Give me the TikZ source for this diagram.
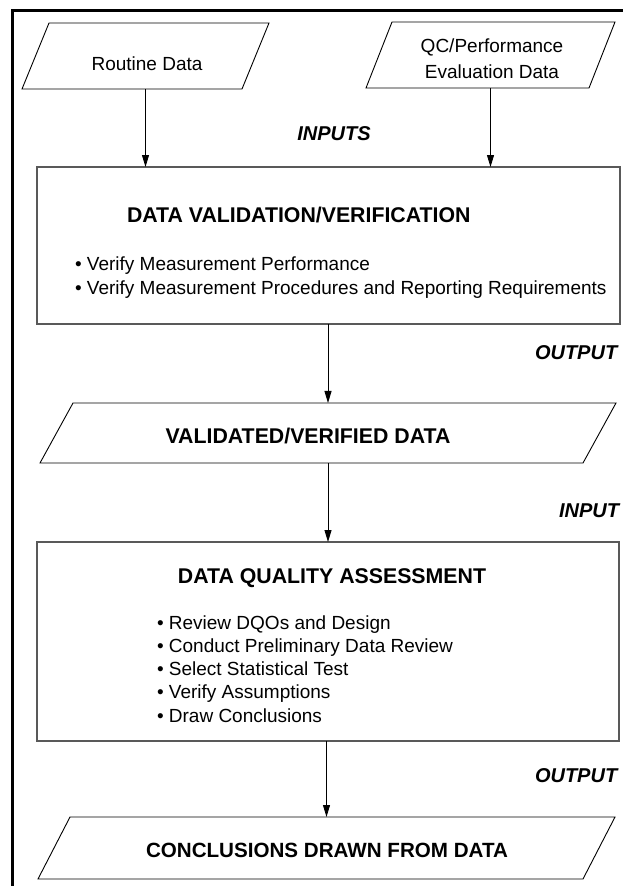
\documentclass[tikz,border=0pt]{standalone}
\usepackage{fontspec}
\setmainfont{Liberation Sans}
\usetikzlibrary{calc, shapes.geometric, arrows.meta, positioning}

\begin{document}
\begin{tikzpicture}[%
    x=1pt, y=-1pt,                           % page units, y down
    >={Triangle[length=12pt, width=7pt]},    % arrow style
    every node/.style={inner sep=0pt, outer sep=0pt},
    datanode/.style={draw, trapezium, text depth=0pt, line width=0.9pt},
    processbox/.style={draw=black!65, rectangle, line width=1.3pt},
    plaintext/.style={font=\fontsize{19}{26}\selectfont},
    boldtext/.style={font=\fontsize{21.3}{26}\selectfont\bfseries},
    flowtag/.style={font=\fontsize{20}{24}\selectfont\bfseries\itshape},
    flowline/.style={->, line width=0.9pt},
    ]

\useasboundingbox (0,0) rectangle (623,886);

%==================================================
% Frame
%==================================================
\draw[line width=3pt] (12,10) rectangle (660,920);

%==================================================
% Input data
%==================================================
\node[datanode, trapezium left angle=67.75, trapezium right angle=112.25,
      text width=193pt, text height=66pt] (routine) at (145.5,56) {};
\node[datanode, trapezium left angle=68.5, trapezium right angle=111.5,
      text width=197pt, text height=66pt] (qcdata) at (490.5,55) {};

\node[plaintext, anchor=base] (routinetext) at (147,70) {Routine Data};
\node[plaintext, align=center] (qctext) at (492,59) {QC/Performance\\Evaluation Data};

\node[flowtag, anchor=base] (inputs) at (334,140) {INPUTS};

%==================================================
% Validation box
%==================================================
\node[processbox, minimum width=583pt, minimum height=157pt] (validation) at (328.5,245.5) {};

\node[boldtext, anchor=base west] (valtitle) at (127,222) {DATA VALIDATION/VERIFICATION};
\node[plaintext, anchor=base west] (val1) at (75,270) {\textbullet\ Verify Measurement Performance};
\node[plaintext, anchor=base west] (val2) at (75,294) {\textbullet\ Verify Measurement Procedures and Reporting Requirements};

\node[flowtag, anchor=base west] (output1) at (535,359) {OUTPUT};

%==================================================
% Validated data
%==================================================
\node[datanode, trapezium left angle=61.2, trapezium right angle=118.8,
      text width=510pt, text height=60pt] (validated) at (328,433) {};
\node[boldtext, anchor=base] (validatedtext) at (308,443) {VALIDATED/VERIFIED DATA};

\node[flowtag, anchor=base west] (input2) at (559,517) {INPUT};

%==================================================
% Quality assessment box
%==================================================
\node[processbox, minimum width=582pt, minimum height=199pt] (assessment) at (328,641.5) {};

\node[boldtext, anchor=base] (dqatitle) at (332,583) {DATA QUALITY ASSESSMENT};
\node[plaintext, anchor=base west] (dqa1) at (157,629) {\textbullet\ Review DQOs and Design};
\node[plaintext, anchor=base west] (dqa2) at (157,652) {\textbullet\ Conduct Preliminary Data Review};
\node[plaintext, anchor=base west] (dqa3) at (157,675) {\textbullet\ Select Statistical Test};
\node[plaintext, anchor=base west] (dqa4) at (157,698) {\textbullet\ Verify Assumptions};
\node[plaintext, anchor=base west] (dqa5) at (157,722) {\textbullet\ Draw Conclusions};

\node[flowtag, anchor=base west] (output2) at (535,782) {OUTPUT};

%==================================================
% Conclusions
%==================================================
\node[datanode, trapezium left angle=62.7, trapezium right angle=117.3,
      text width=513pt, text height=62pt] (conclusions) at (326.5,848) {};
\node[boldtext, font=\fontsize{20.6}{26}\selectfont\bfseries, anchor=base] (conclusionstext) at (327,857) {CONCLUSIONS DRAWN FROM DATA};

%==================================================
% Arrows
%==================================================
\draw[flowline] (routine.south) -- (routine.south |- validation.north);
\draw[flowline] (qcdata.south) -- (qcdata.south |- validation.north);
\draw[flowline] (validation.south -| validated.north) -- (validated.north);
\draw[flowline] (validated.south) -- (validated.south |- assessment.north);
\draw[flowline] (assessment.south -| conclusions.north) -- (conclusions.north);

%==================================================
\end{tikzpicture}
\end{document}
